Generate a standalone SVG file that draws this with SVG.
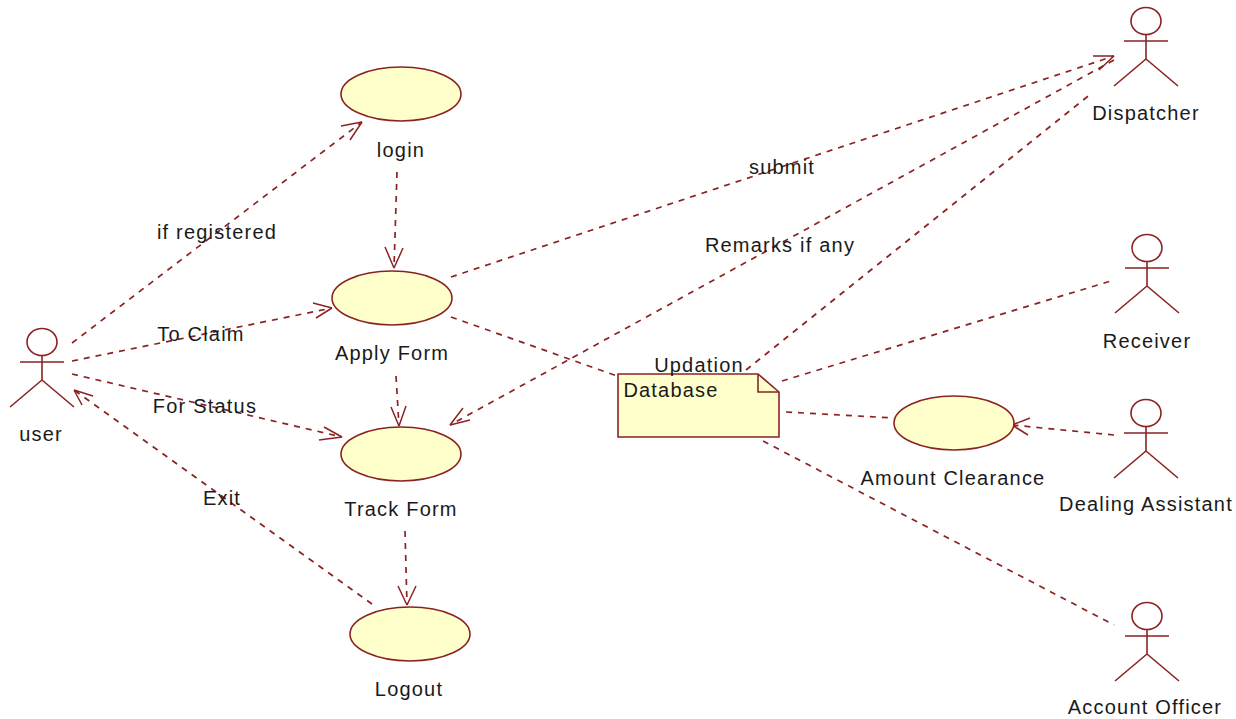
<svg xmlns="http://www.w3.org/2000/svg" width="1236" height="719" viewBox="0 0 1236 719">
<style>
.s{fill:none;stroke:#8b2323;stroke-width:1.6}
.e{fill:#ffffcb;stroke:#8b2323;stroke-width:1.6}
.d{fill:none;stroke:#8b2323;stroke-width:1.7;stroke-dasharray:6 6}
.h{fill:none;stroke:#8b2323;stroke-width:1.5}
text{font-family:"Liberation Sans",Arial,sans-serif;font-size:20px;letter-spacing:1.2px;fill:#1a1a1a;text-anchor:middle}
</style>
<defs>
<g id="actor"><ellipse cx="0" cy="-20" rx="15" ry="13.5" class="s"/><path class="s" d="M-22,0H22M0,-6V18M0,18L-32,45M0,18L32,45"/></g>
</defs>
<rect width="1236" height="719" fill="#fff"/>
<g id="connectors">
<path class="d" d="M72,343L362,122"/><path class="h" d="M362,122L341,126M362,122L350,140"/>
<path class="d" d="M397,172L394,268"/><path class="h" d="M394,268L385,247M394,268L403,248"/>
<path class="d" d="M72,361L332,308"/><path class="h" d="M332,308L313,303M332,308L316,318"/>
<path class="d" d="M72,374L342,437"/><path class="h" d="M342,437L324,427M342,437L319,440"/>
<path class="d" d="M396,376L399,426"/><path class="h" d="M399,426L391,407M399,426L406,406"/>
<path class="d" d="M405,531L407,605"/><path class="h" d="M407,605L398,586M407,605L416,586"/>
<path class="d" d="M372,604L74,390"/><path class="h" d="M74,390L93,396M74,390L82,405"/>
<path class="d" d="M451,277L1114,56"/><path class="h" d="M1114,56L1093,56M1114,56L1099,70"/>
<path class="d" d="M1114,60L450,425"/><path class="h" d="M450,425L470,420M450,425L463,408"/>
<path class="d" d="M746,370L1092,93"/>
<path class="d" d="M451,317L617,376"/>
<path class="d" d="M782,381L1114,280"/>
<path class="d" d="M786,412L894,418"/>
<path class="d" d="M763,441L1114,625"/>
<path class="d" d="M1114,435L1012,425"/><path class="h" d="M1012,425L1030,418M1012,425L1028,435"/>
</g>
<g id="login"><ellipse class="e" cx="401" cy="94" rx="60" ry="27"/><text x="401" y="157">login</text></g>
<g id="apply"><ellipse class="e" cx="392" cy="298" rx="60" ry="27"/><text x="392" y="360">Apply Form</text></g>
<g id="track"><ellipse class="e" cx="401" cy="454" rx="60" ry="27"/><text x="401" y="516">Track Form</text></g>
<g id="logout"><ellipse class="e" cx="410" cy="634" rx="60" ry="27"/><text x="409" y="696">Logout</text></g>
<g id="amount"><ellipse class="e" cx="954" cy="423" rx="60" ry="27"/><text x="953" y="485">Amount Clearance</text></g>
<g id="database"><path class="e" d="M618,374H758L779,392V437H618Z"/><path class="s" d="M758,374V392H779"/><text x="671" y="397">Database</text><text x="699" y="372">Updation</text></g>
<g id="user"><use href="#actor" transform="translate(42,362)"/><text x="41" y="441">user</text></g>
<g id="dispatcher"><use href="#actor" transform="translate(1146,41)"/><text x="1146" y="120">Dispatcher</text></g>
<g id="receiver"><use href="#actor" transform="translate(1147,268)"/><text x="1147" y="348">Receiver</text></g>
<g id="dealing"><use href="#actor" transform="translate(1146,433)"/><text x="1146" y="511">Dealing Assistant</text></g>
<g id="officer"><use href="#actor" transform="translate(1147,636)"/><text x="1145" y="714">Account Officer</text></g>
<g id="labels">
<text x="217" y="239">if registered</text>
<text x="201" y="341">To Claim</text>
<text x="205" y="413">For Status</text>
<text x="222" y="505">Exit</text>
<text x="782" y="174">submit</text>
<text x="780" y="252">Remarks if any</text>
</g>
</svg>
